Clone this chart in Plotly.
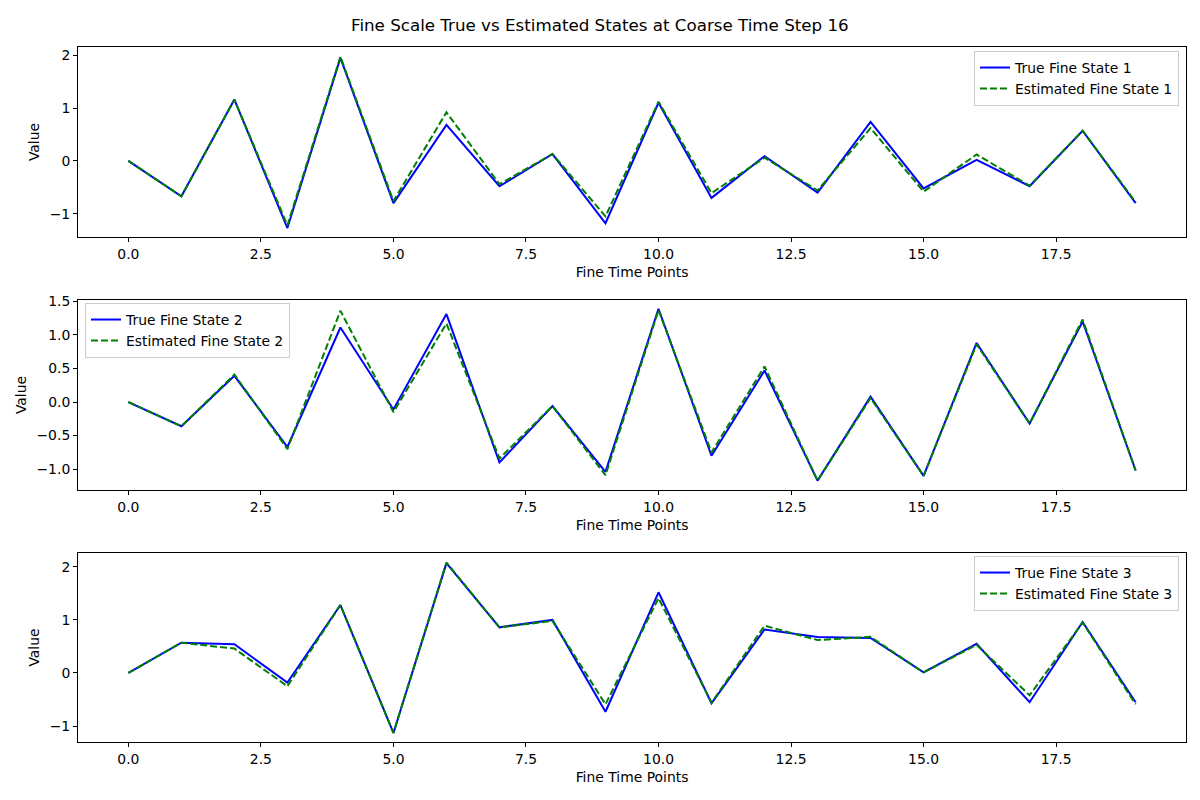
import plotly.graph_objects as go

x_fine = list(range(20))

true_s1 = [0.0, -0.67, 1.16, -1.27, 1.95, -0.80, 0.68, -0.48, 0.13, -1.18,
           1.10, -0.70, 0.09, -0.60, 0.74, -0.52, 0.02, -0.48, 0.57, -0.80]
est_s1 = [0.0, -0.67, 1.16, -1.22, 1.97, -0.76, 0.92, -0.44, 0.13, -1.05,
          1.12, -0.61, 0.06, -0.56, 0.62, -0.58, 0.12, -0.47, 0.57, -0.78]

true_s2 = [0.0, -0.36, 0.39, -0.67, 1.11, -0.11, 1.31, -0.90, -0.06, -1.04,
           1.39, -0.80, 0.47, -1.17, 0.08, -1.10, 0.88, -0.32, 1.20, -1.02]
est_s2 = [0.0, -0.36, 0.41, -0.70, 1.36, -0.15, 1.17, -0.84, -0.06, -1.09,
          1.37, -0.75, 0.53, -1.17, 0.06, -1.10, 0.86, -0.32, 1.23, -1.02]

true_s3 = [0.0, 0.57, 0.54, -0.18, 1.28, -1.13, 2.07, 0.86, 1.00, -0.73,
           1.52, -0.57, 0.82, 0.68, 0.66, 0.01, 0.55, -0.55, 0.96, -0.55]
est_s3 = [0.0, 0.57, 0.46, -0.25, 1.28, -1.13, 2.08, 0.86, 0.98, -0.59,
          1.41, -0.56, 0.89, 0.62, 0.68, 0.01, 0.53, -0.42, 0.95, -0.59]

title_text = "Fine Scale True vs Estimated States at Coarse Time Step 16"
x_label = "Fine Time Points"
y_label = "Value"

FONT = "DejaVu Sans"
FS = 13.9
W, H = 1200, 800

series = [
    (true_s1, est_s1, "1"),
    (true_s2, est_s2, "2"),
    (true_s3, est_s3, "3"),
]

# pixel geometry of axes (top, bottom)
axes_px = [(47, 237), (300, 490), (553, 742)]
y_ranges = [[-1.44, 2.155], [-1.31, 1.52], [-1.30, 2.26]]
y_dticks = [1, 0.5, 1]
y_formats = ["d", ".1f", "d"]
x_left, x_right = 78, 1186

fig = go.Figure()
legend_names = ["legend", "legend2", "legend3"]

for i, (tr, es, k) in enumerate(series):
    suffix = "" if i == 0 else str(i + 1)
    fig.add_trace(go.Scatter(
        x=x_fine, y=tr, mode="lines", name=f"True Fine State {k}",
        line=dict(color="blue", width=2),
        xaxis="x" + suffix, yaxis="y" + suffix, legend=legend_names[i],
    ))
    fig.add_trace(go.Scatter(
        x=x_fine, y=es, mode="lines", name=f"Estimated Fine State {k}",
        line=dict(color="green", width=2, dash="7px,3px"),
        xaxis="x" + suffix, yaxis="y" + suffix, legend=legend_names[i],
    ))

layout = dict(
    template="none",
    width=W, height=H,
    margin=dict(l=0, r=0, t=0, b=0, pad=0, autoexpand=False),
    paper_bgcolor="white", plot_bgcolor="white",
    font=dict(family=FONT, size=FS, color="black"),
    showlegend=True,
    annotations=[dict(
        text=title_text, x=0.5, y=1 - 25 / H, xref="paper", yref="paper",
        xanchor="center", yanchor="middle", showarrow=False,
        font=dict(family=FONT, size=16.7, color="black"),
    )],
)

for i in range(3):
    suffix = "" if i == 0 else str(i + 1)
    top, bot = axes_px[i]
    common = dict(
        showline=True, linecolor="black", linewidth=1, mirror=True,
        ticks="outside", ticklen=4, tickwidth=1, tickcolor="black",
        showgrid=False, zeroline=False, automargin=False,
        tickfont=dict(family=FONT, size=FS, color="black"),
    )
    layout["xaxis" + suffix] = dict(
        common,
        domain=[x_left / W, x_right / W],
        range=[-0.95, 19.95],
        tick0=0, dtick=2.5, tickformat=".1f",
        anchor="y" + suffix,
        title=dict(text=x_label, standoff=6, font=dict(family=FONT, size=FS)),
    )
    layout["yaxis" + suffix] = dict(
        common,
        domain=[1 - bot / H, 1 - top / H],
        range=y_ranges[i],
        tick0=0, dtick=y_dticks[i], tickformat=y_formats[i],
        anchor="x" + suffix,
        title=dict(text=y_label, standoff=6, font=dict(family=FONT, size=FS)),
    )

legend_common = dict(
    bgcolor="rgba(255,255,255,0.8)", bordercolor="#cccccc", borderwidth=1,
    font=dict(family=FONT, size=FS, color="black"),
    xref="paper", yref="paper", yanchor="top", itemwidth=30,
    tracegroupgap=0,
)
layout["legend"] = dict(legend_common, x=1179 / W, xanchor="right", y=1 - 51 / H)
layout["legend2"] = dict(legend_common, x=85 / W, xanchor="left", y=1 - 303 / H)
layout["legend3"] = dict(legend_common, x=1179 / W, xanchor="right", y=1 - 556 / H)

fig.update_layout(**layout)
fig.write_html(
    "out.html",
    config={"displayModeBar": False},
    post_script="document.body.style.margin='0';document.body.style.padding='0';document.body.style.overflow='hidden';",
)
